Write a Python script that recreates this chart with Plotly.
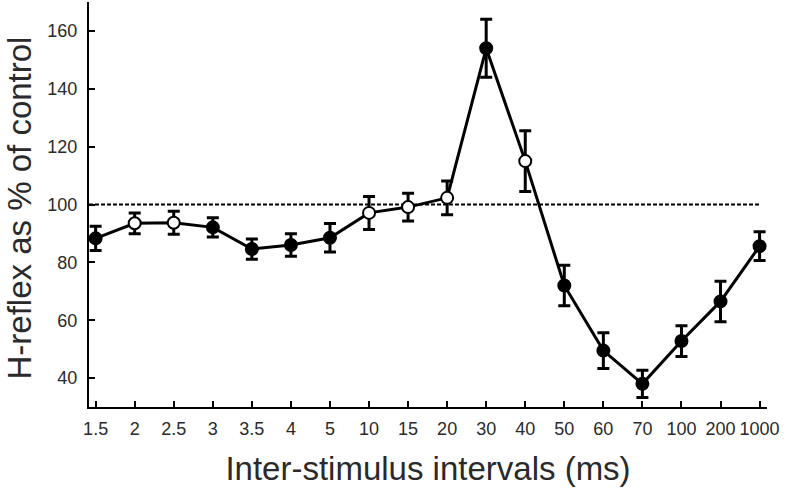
import plotly.graph_objects as go

intervals = ["1.5", "2", "2.5", "3", "3.5", "4", "5", "10", "15", "20",
             "30", "40", "50", "60", "70", "100", "200", "1000"]
h_reflex = [88.3, 93.5, 93.7, 92.1, 84.6, 86.0, 88.5, 97.1, 99.1, 102.3,
            154.0, 115.0, 72.0, 49.5, 38.0, 52.8, 66.5, 85.6]
sem = [4.2, 3.6, 4.0, 3.3, 3.5, 3.9, 4.9, 5.7, 4.8, 5.8,
       10.0, 10.5, 7.0, 6.2, 4.7, 5.3, 7.0, 5.0]
open_marker = [False, True, True, False, False, False, False, True, True, True,
               False, True, False, False, False, False, False, False]
control_level = 100
y_ticks = [40, 60, 80, 100, 120, 140, 160]
x_title = "Inter-stimulus intervals (ms)"
y_title = "H-reflex as % of control"

idx = list(range(len(intervals)))
fill_colors = ["white" if o else "black" for o in open_marker]

fig = go.Figure()
fig.add_trace(go.Scatter(
    x=idx, y=h_reflex,
    mode="lines+markers",
    line=dict(color="black", width=3),
    marker=dict(size=12, color=fill_colors, line=dict(color="black", width=2)),
    error_y=dict(type="data", array=sem, visible=True, color="black",
                 thickness=3, width=6),
    showlegend=False,
))

fig.add_shape(type="line", xref="x", yref="y", x0=-0.17, x1=len(intervals) - 1,
              y0=control_level, y1=control_level,
              line=dict(color="black", width=2, dash="4px,2px"), layer="below")

fig.add_annotation(
    text=y_title, textangle=-90, showarrow=False,
    xref="paper", yref="paper", x=0, y=0.5,
    xanchor="center", yanchor="middle", xshift=-70, yshift=-4,
    borderpad=0,
    font=dict(size=33, color="#2a2a2a"),
)

font_family = "Liberation Sans, Arial, sans-serif"
fig.update_layout(
    width=788, height=490,
    margin=dict(l=89, r=21, t=2, b=83),
    paper_bgcolor="white", plot_bgcolor="white",
    font=dict(family=font_family, color="#2a2a2a"),
    xaxis=dict(
        range=[-0.17, len(intervals) - 1 + 0.19],
        tickmode="array", tickvals=idx, ticktext=intervals,
        ticks="inside", ticklen=6, tickwidth=2, tickcolor="black",
        showline=True, linecolor="black", linewidth=2,
        showgrid=False, zeroline=False,
        tickfont=dict(size=18, color="#2a2a2a"),
        ticklabelstandoff=4,
        title=dict(text=x_title,
                   font=dict(size=33, color="#2a2a2a"), standoff=19),
    ),
    yaxis=dict(
        range=[30, 170],
        tickmode="array", tickvals=y_ticks,
        ticks="inside", ticklen=6, tickwidth=2, tickcolor="black",
        showline=True, linecolor="black", linewidth=2,
        showgrid=False, zeroline=False,
        tickfont=dict(size=18, color="#2a2a2a"),
        ticklabelstandoff=6,
    ),
)

fig.write_html(
    "out.html",
    config={"displayModeBar": False},
    post_script="document.body.style.margin='0';document.body.style.padding='0';",
)
